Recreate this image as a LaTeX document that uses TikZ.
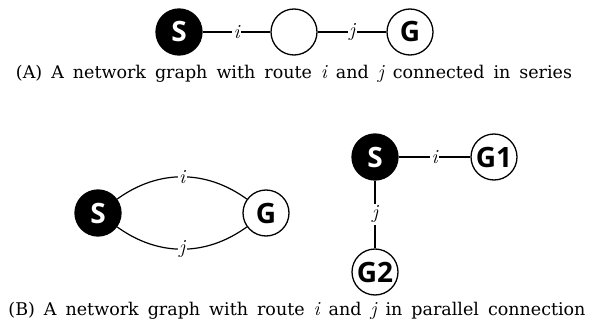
\documentclass[tikz,border=0pt]{standalone}
\usepackage{fontspec}
\newfontfamily\nodefont{Open Sans}
\newfontfamily\capfont{DejaVu Serif}
\newcommand\capsetup{\capfont\fontsize{17.5}{20}\selectfont\spaceskip=9pt plus 1pt\relax}
\newcommand\route[1]{{\rmfamily\itshape\fontsize{20}{20}\selectfont #1}}
\usetikzlibrary{positioning}
\begin{document}
\begin{tikzpicture}[x=1pt, y=-1pt,
    vertex/.style={circle, draw, line width=1.3pt, minimum size=46pt, inner sep=0pt, font=\nodefont\bfseries\fontsize{28}{28}\selectfont},
    start/.style={vertex, fill=black, text=white},
    edge/.style={line width=1.2pt},
    elabel/.style={fill=white, inner sep=1.5pt},
    caption/.style={font=\capsetup}]
    \useasboundingbox (0,0) rectangle (594,326);
    % (A) routes in series
    \node[start] (sA) at (179,32) {S};
    \node[vertex] (mA) at (294,32) {};
    \node[vertex] (gA) at (410,32) {G};
    \draw[edge] (sA) -- node[elabel] {\route{i}} (mA);
    \draw[edge] (mA) -- node[elabel] {\route{j}} (gA);
    \node[caption] (capA) at (294,74) {(A) A network graph with route \route{i} and \route{j} connected in series};

    % (B) routes in parallel
    \node[start] (sB) at (98,213) {S};
    \node[vertex] (gB) at (266,213) {G};
    \draw[edge] (sB) to[bend left=36] node[elabel] {\route{i}} (gB);
    \draw[edge] (sB) to[bend right=36] node[elabel] {\route{j}} (gB);

    \node[start] (sC) at (375,157) {S};
    \node[vertex] (g1) at (494,157) {G1};
    \node[vertex] (g2) at (375,272) {G2};
    \draw[edge] (sC) -- node[elabel] {\route{i}} (g1);
    \draw[edge] (sC) -- node[elabel] {\route{j}} (g2);
    \node[caption] (capB) at (297,311) {(B) A network graph with route \route{i} and \route{j} in parallel connection};
\end{tikzpicture}
\end{document}
